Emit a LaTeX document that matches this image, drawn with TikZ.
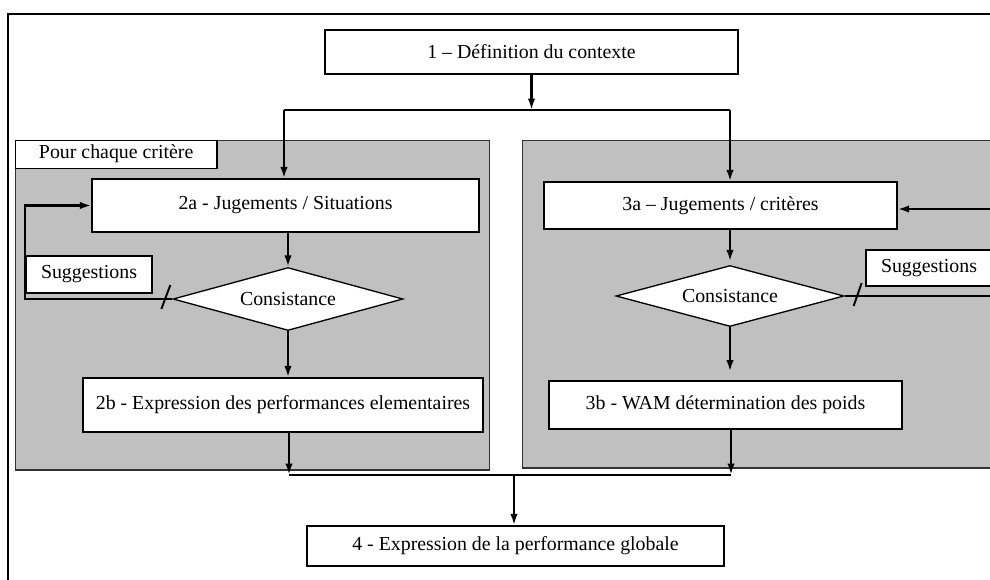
\documentclass[tikz,border=0pt]{standalone}
\usepackage{fontspec}
\setmainfont{Liberation Serif}
\usepackage{tikz}
\usetikzlibrary{positioning}
\usetikzlibrary{arrows.meta}
\usetikzlibrary{shapes.geometric}
\definecolor{panelgray}{RGB}{192,192,192}

\begin{document}
\begin{tikzpicture}[x=0.02cm,y=-0.02cm,
        >={Latex[length=6.5pt,width=4.2pt]},
        box/.style={text=black,draw=black,fill=white,rectangle,line width=0.75pt,inner sep=0pt,font=\fontsize{11.3}{13}\selectfont},
        panel/.style={draw=black!80,fill=panelgray,rectangle,line width=0.6pt,inner sep=0pt},
        choice/.style={text=black,draw=black,fill=white,diamond,aspect=3.65,line width=0.75pt,inner sep=1pt,font=\fontsize{11.3}{13}\selectfont},
        flow/.style={line width=1.6pt}]
        \useasboundingbox (0,0) rectangle (990,579);
        \clip (0,0) rectangle (990,579);
        \draw[line width=1.5pt] (8,14) rectangle (1010,600);

        \node (rectCtx) at (531.5,52) [box, minimum width=8.26cm, minimum height=0.88cm] {1 -- Définition du contexte};

        \node (panL) at (252.5,305) [panel, minimum width=9.5cm, minimum height=6.6cm] {};
        \node[anchor=north west] (lblCrit) at (panL.north west) [box, minimum width=4.04cm, minimum height=0.56cm] {Pour chaque critère};
        \node (rectJugS) at (285.5,205.5) [box, minimum width=7.74cm, minimum height=1.06cm] {2a - Jugements / Situations};
        \node (consL) at (288,299) [choice, minimum width=4.6cm, minimum height=1.26cm] {Consistance};
        \node (sugL) at (89,274.5) [box, minimum width=2.52cm, minimum height=0.74cm] {Suggestions};
        \node (rectPerfE) at (283,405) [box, minimum width=8cm, minimum height=1.08cm] {2b - Expression des performances elementaires};

        \node (panR) at (766,304) [panel, minimum width=9.76cm, minimum height=6.56cm] {};
        \node (rectJugC) at (720.5,205.5) [box, minimum width=7.06cm, minimum height=0.94cm] {3a -- Jugements / critères};
        \node (consR) at (730,296) [choice, minimum width=4.56cm, minimum height=1.22cm] {Consistance};
        \node (sugR) at (929,268) [box, minimum width=2.52cm, minimum height=0.72cm] {Suggestions};
        \node (rectWam) at (725.5,405) [box, minimum width=7.06cm, minimum height=0.96cm] {3b - WAM détermination des poids};

        \node (rectGlob) at (515.5,546) [box, minimum width=8.34cm, minimum height=0.8cm] {4 - Expression de la performance globale};

        \coordinate (topL) at (284,110);
        \coordinate (topR) at (730,110);
        \draw[flow,->] (rectCtx.south) -- (rectCtx.south |- topL);
        \draw[flow] (topL) -- (topR);
        \draw[flow,->] (topL) -- (topL |- rectJugS.north);
        \draw[flow,->] (topR) -- (topR |- rectJugC.north);

        \draw[flow,->] (rectJugS.south -| consL.north) -- (consL.north);
        \draw[flow,->] (consL.south) -- (consL.south |- rectPerfE.north);
        \coordinate (backL) at (25,299);
        \draw[flow,->] (consL.west) -- (backL) |- (rectJugS.west);
        \draw[line width=1.1pt] ([shift={(-11,10)}]consL.west) -- ([shift={(-2,-14)}]consL.west);

        \draw[flow,->] (rectJugC.south -| consR.north) -- ([yshift=2pt]consR.north);
        \draw[flow,->,shorten >=5pt] (consR.south) -- (consR.south |- rectWam.north);
        \coordinate (backR) at (994,296);
        \draw[flow,->] (consR.east) -- (backR) |- ([yshift=-2pt]rectJugC.east);
        \draw[line width=1.1pt] ([shift={(9,10)}]consR.east) -- ([shift={(17,-13)}]consR.east);

        \coordinate (botL) at (289,475);
        \coordinate (botR) at (731,475);
        \coordinate (botM) at (514,475);
        \draw[flow,->] (botL |- rectPerfE.south) -- (botL);
        \draw[flow,->] (botR |- rectWam.south) -- (botR);
        \draw[flow] (botL) -- (botR);
        \draw[flow,->] (botM) -- (botM |- rectGlob.north);
\end{tikzpicture}
\end{document}
